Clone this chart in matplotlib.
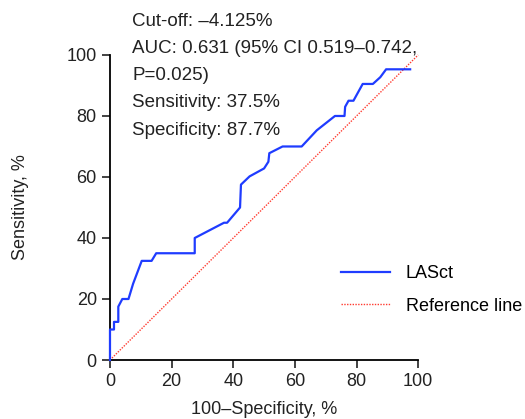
import matplotlib.pyplot as plt

plt.rcParams['font.family'] = ['Liberation Sans', 'DejaVu Sans']

# ROC curve for LASct (100-specificity, sensitivity)
fpr = [0, 0, 1.3, 1.3, 2.7, 2.7, 4, 6, 7.5, 10.3, 13.5, 15, 27.5, 27.5, 37, 38,
       42.2, 42.5, 45.3, 50, 51.4, 51.7, 56, 62.2, 67.1, 73, 76.1, 76.3, 77.4,
       79, 82, 85.3, 87.7, 89.6, 97.4]
tpr = [0, 10, 10, 12.5, 12.5, 17.5, 20, 20, 25, 32.5, 32.5, 35, 35, 40, 45, 45,
       50, 57.5, 60.2, 62.8, 65, 67.8, 70, 70, 75.3, 80, 80, 83, 85,
       85, 90.5, 90.5, 92.7, 95.3, 95.3]
ref = [0, 100]

notes = ["Cut-off: \u20134.125%",
         "AUC: 0.631 (95% CI 0.519\u20130.742,",
         "P=0.025)",
         "Sensitivity: 37.5%",
         "Specificity: 87.7%"]

fs = 13

fig = plt.figure(figsize=(5.25, 4.19), dpi=100)
ax = fig.add_axes([0.2095, 0.1408, 0.587, 0.728])

ax.plot(fpr, tpr, color='#1f3cff', lw=1.6, label='LASct', clip_on=False, zorder=3)
ax.plot(ref, ref, color='#ff3b30', lw=1.0, ls=(0, (1, 1)), label='Reference line',
        clip_on=False, zorder=2)

ax.set_xlim(0, 100)
ax.set_ylim(0, 100)
ax.set_xticks(range(0, 101, 20))
ax.set_yticks(range(0, 101, 20))
ax.tick_params(labelsize=fs, length=6, width=1.2, direction='out', colors='#222222')
for s in ['top', 'right']:
    ax.spines[s].set_visible(False)
for s in ['left', 'bottom']:
    ax.spines[s].set_linewidth(1.3)

ax.set_xlabel('100\u2013Specificity, %', fontsize=fs, labelpad=8, color='#222222')
ax.set_ylabel('Sensitivity, %', fontsize=fs, labelpad=27, color='#222222')

for i, t in enumerate(notes):
    fig.text(132 / 525, 1 - (21 + 27.3 * i) / 419, t, fontsize=13.5, va='center',
             color='#222222')

ax.legend(loc='lower right', bbox_to_anchor=(1.39, 0.095), frameon=False,
          fontsize=fs, handlelength=2.7, handletextpad=0.9, labelspacing=0.85)

fig.savefig('out.png', dpi=100)
